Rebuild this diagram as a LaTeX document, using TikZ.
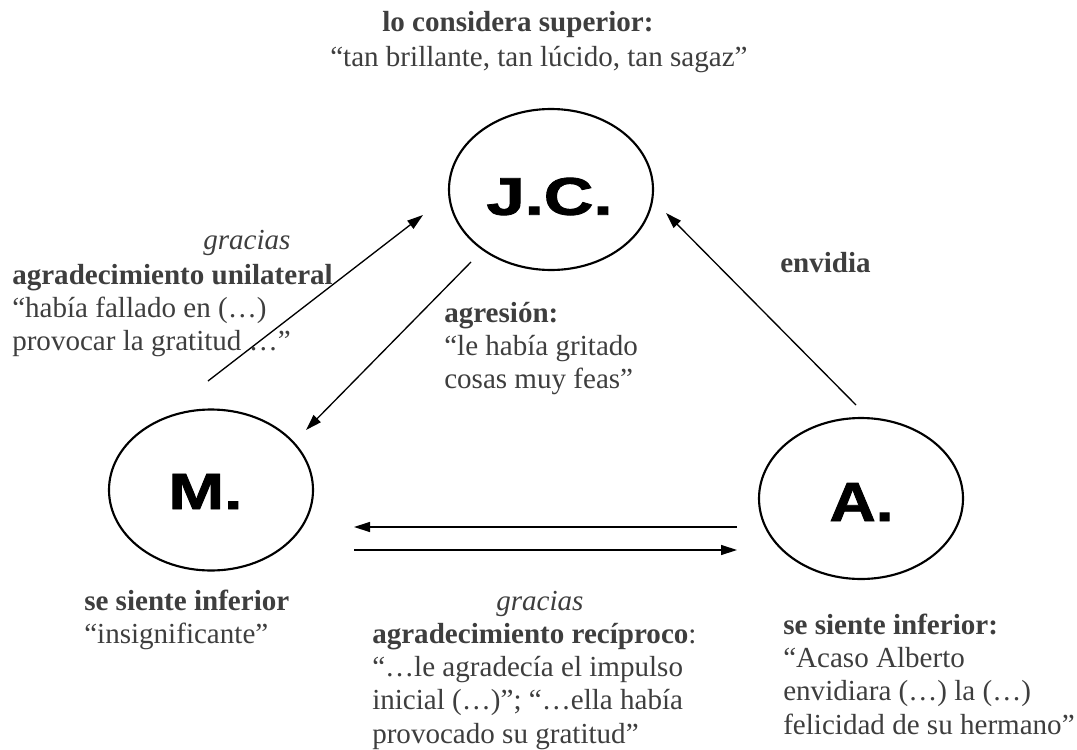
\documentclass[tikz,border=0pt]{standalone}
\usepackage{fontspec}
\setmainfont{Liberation Serif}
\newfontface\labelface[FakeBold=1.5]{Liberation Sans Bold}
\usetikzlibrary{shapes.geometric,arrows.meta}
\definecolor{txt}{RGB}{62,62,62}
\newcommand{\plabel}[3]{\resizebox{#1}{#2}{\labelface\fontsize{38}{40}\selectfont #3}}
\begin{document}
\begin{tikzpicture}[x=0.75pt,y=-0.75pt,
  person/.style={ellipse, draw=black, line width=1.6pt, minimum width=153pt, minimum height=120.75pt, inner sep=0pt},
  personlabel/.style={inner sep=0pt},
  rel/.style={draw=black, line width=1pt, -{Triangle[length=12pt,width=7.5pt]}},
  txtblock/.style={anchor=base west, inner sep=0pt, text=txt, font=\fontsize{21.8}{25.1}\selectfont},
]
\useasboundingbox (0,0) rectangle (1077,749);

% persons
\node[person] (jc) at (551,189.5) {};
\node[person] (m) at (211,490) {};
\node[person] (a) at (861,498.5) {};
\node[personlabel] (jclab) at (549.5,196.5) {\plabel{94.5pt}{27.75pt}{J.C.}};
\node[personlabel] (mlab) at (205.5,491.5) {\plabel{55.5pt}{26.25pt}{M.}};
\node[personlabel] (alab) at (861.5,502) {\plabel{48pt}{28.5pt}{A.}};

% texts
\node[txtblock] (title1) at (382,32) {\textbf{lo considera superior:}};
\node[txtblock] (title2) at (330,66) {“tan brillante, tan lúcido, tan sagaz”};

\node[txtblock] (gracias1) at (203,249) {\textit{gracias}};
\node[txtblock] (unilateral) at (12,284) {\begin{tabular}[t]{@{}l@{}}\textbf{agradecimiento unilateral}\\“había fallado en (…)\\provocar la gratitud …”\end{tabular}};

\node[txtblock] (agresion) at (444,322) {\begin{tabular}[t]{@{}l@{}}\textbf{agresión:}\\“le había gritado\\cosas muy feas”\end{tabular}};

\node[txtblock] (envidia) at (780,272) {\textbf{envidia}};

\node[txtblock] (minf) at (84,610) {\begin{tabular}[t]{@{}l@{}}\textbf{se siente inferior}\\“insignificante”\end{tabular}};

\node[txtblock] (gracias2) at (496,610) {\textit{gracias}};
\node[txtblock] (reciproco) at (372,643) {\begin{tabular}[t]{@{}l@{}}\textbf{agradecimiento recíproco}:\\“…le agradecía el impulso\\inicial (…)”; “…ella había\\provocado su gratitud”\end{tabular}};

\node[txtblock] (ainf) at (783,634) {\begin{tabular}[t]{@{}l@{}}\textbf{se siente inferior:}\\“Acaso Alberto\\envidiara (…) la (…)\\felicidad de su hermano”\end{tabular}};

% connector ends
\coordinate (mjcS) at (208,381);
\coordinate (mjcE) at (423,215);
\coordinate (jcmS) at (471,262);
\coordinate (jcmE) at (306,430);
\coordinate (ajcS) at (856,405);
\coordinate (ajcE) at (666,213);
\coordinate (amS) at (737,527);
\coordinate (amE) at (354,527);
\coordinate (maS) at (354,550);
\coordinate (maE) at (737,550);

\draw[rel] (mjcS) -- (mjcE);
\draw[rel] (jcmS) -- (jcmE);
\draw[rel] (ajcS) -- (ajcE);
\draw[rel] (amS) -- (amE);
\draw[rel] (maS) -- (maE);
\end{tikzpicture}
\end{document}
